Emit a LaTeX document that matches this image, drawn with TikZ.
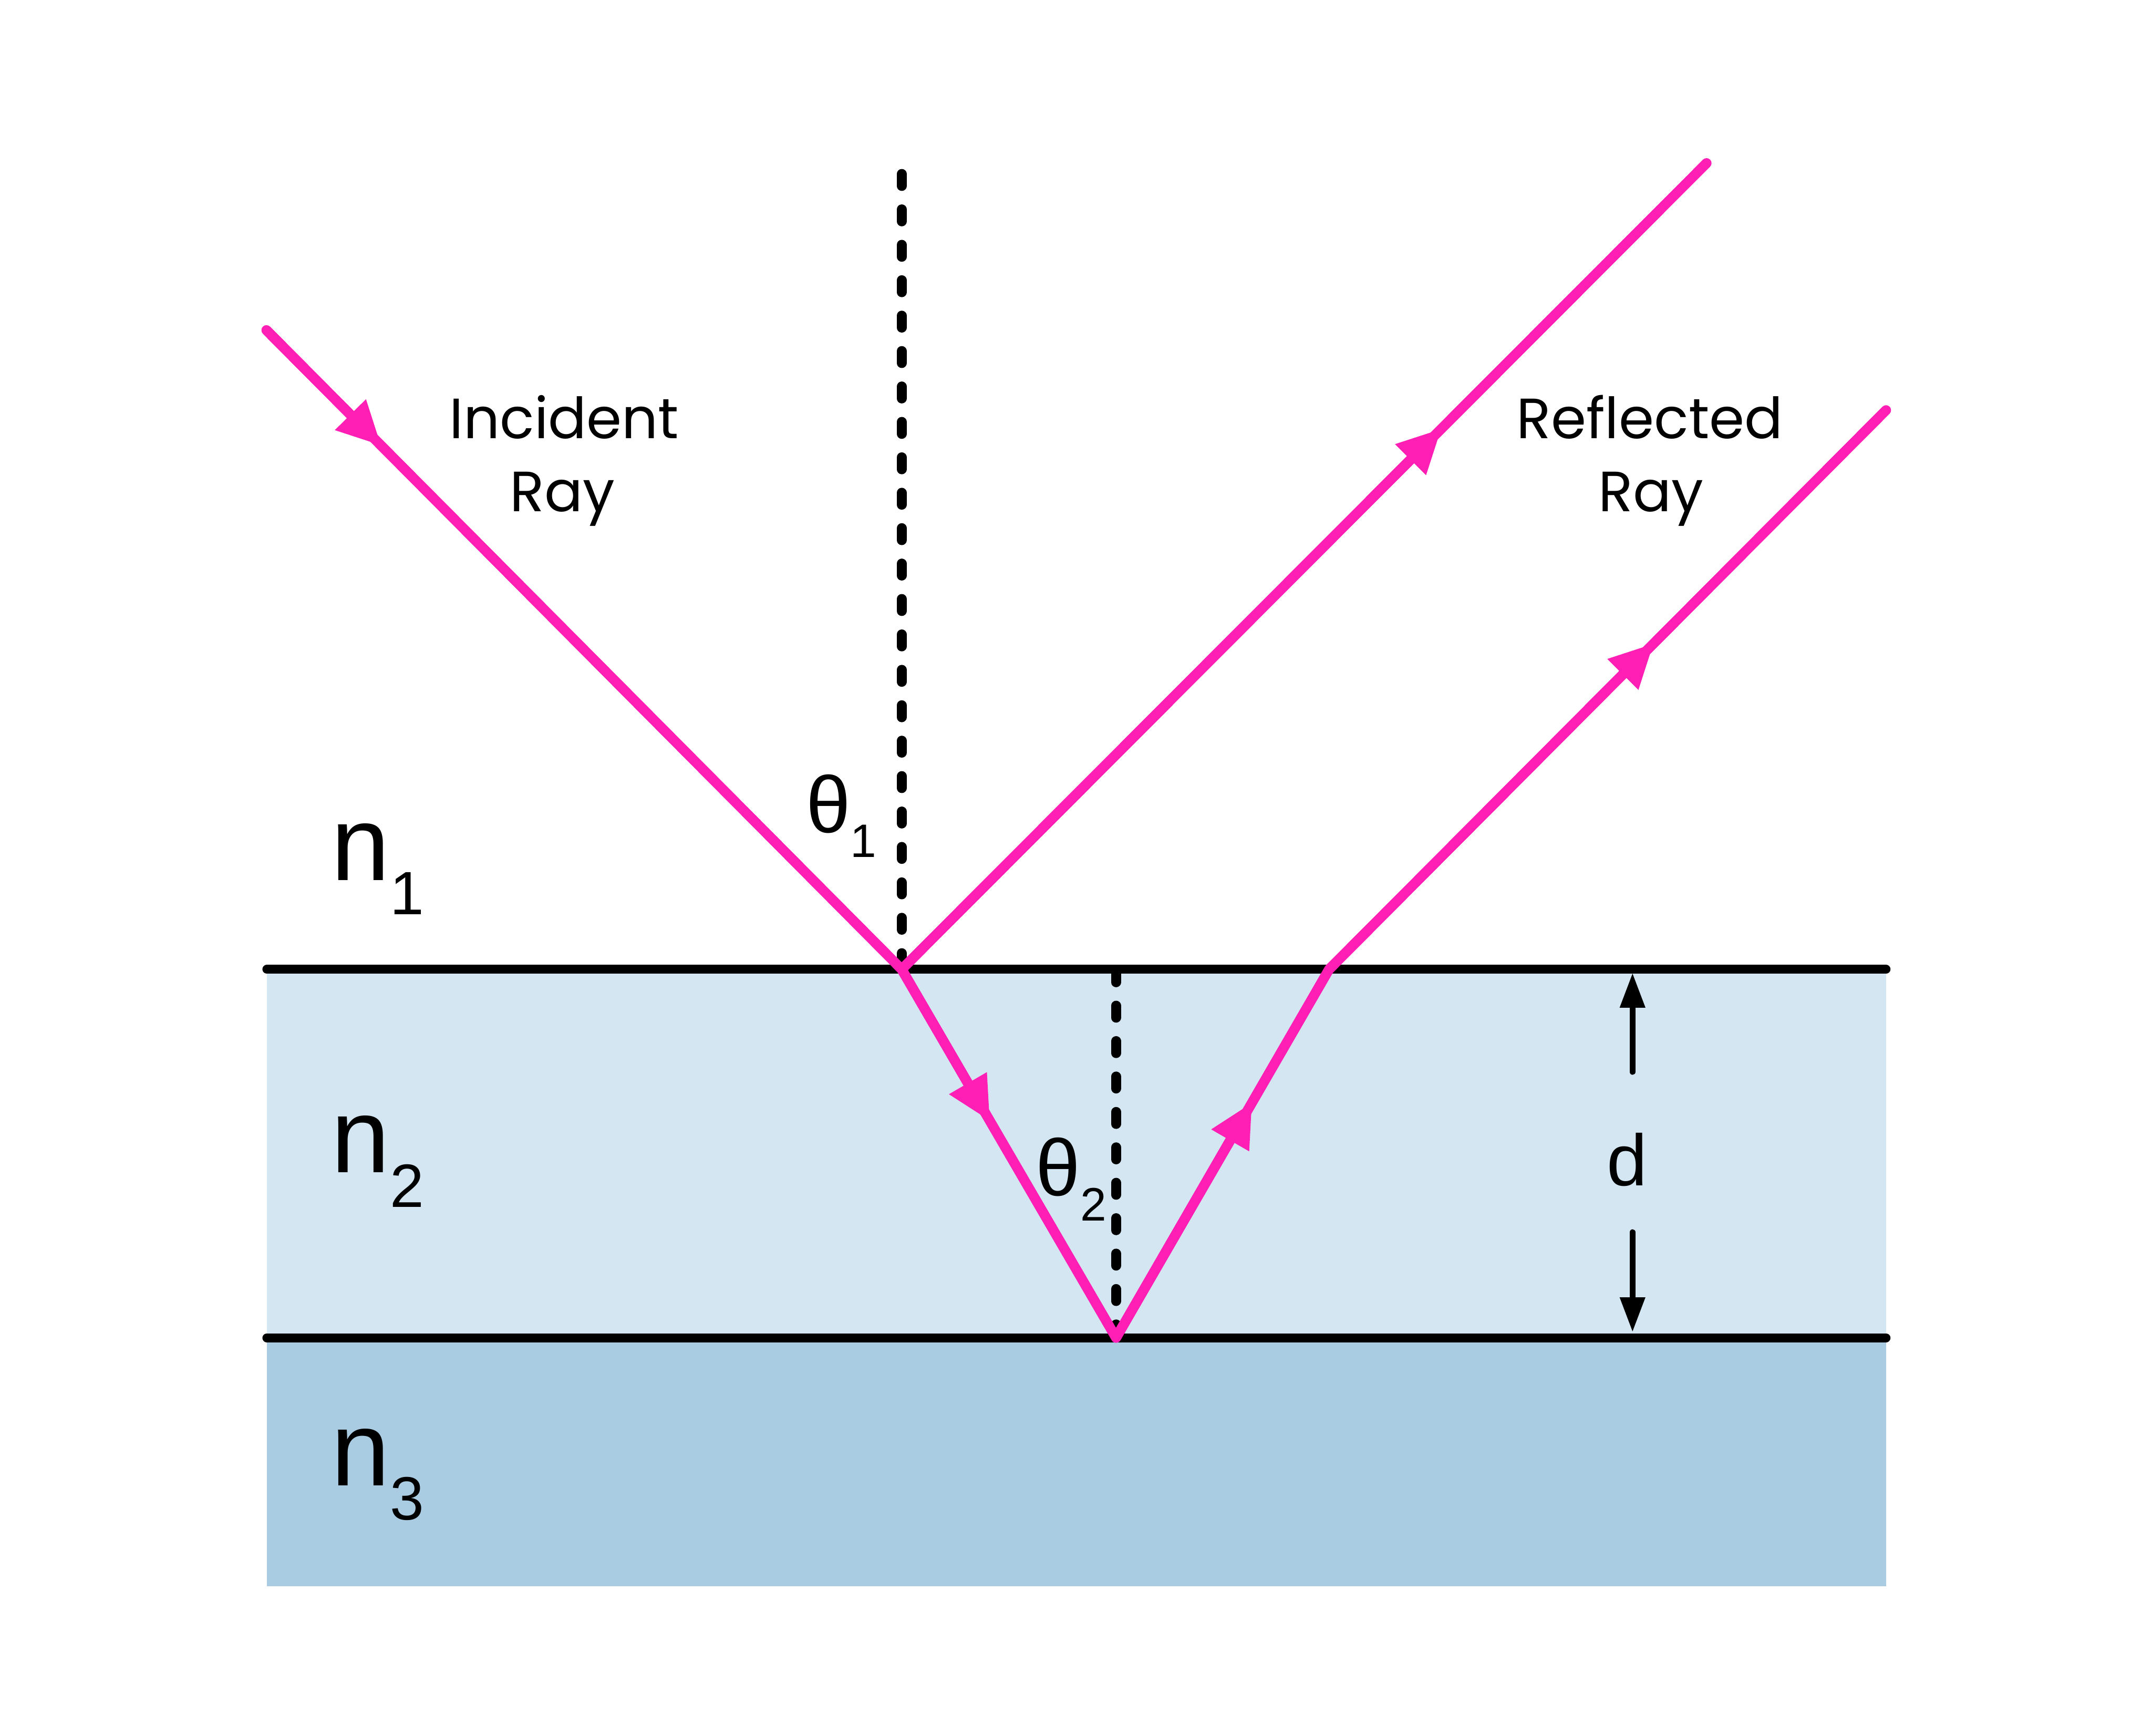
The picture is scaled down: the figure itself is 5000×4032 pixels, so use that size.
\documentclass[tikz,border=0pt]{standalone}
\usepackage{fontspec}
\setmainfont{Liberation Sans}
\newfontfamily\labelfont{Poppins}
\usetikzlibrary{arrows.meta,calc}
\definecolor{raypink}{RGB}{255,31,180}
\definecolor{layerA}{RGB}{211,230,241}
\definecolor{layerB}{RGB}{169,204,227}
\begin{document}
\begin{tikzpicture}[x=0.01cm,y=-0.01cm,
  ray/.style={draw=raypink, line width=6.6pt, line cap=round, line join=round},
  raytip/.style={draw=raypink, line width=6.6pt, -{Triangle[length=1.0cm,width=1.02cm,line width=0pt]}},
  iface/.style={draw=black, line width=5.9pt, line cap=round},
  normalline/.style={draw=black, line width=6.5pt, line cap=round, dash pattern=on 8pt off 15.4pt},
  darrow/.style={draw=black, line width=4pt, line cap=round, -{Triangle[length=0.79cm,width=0.6cm,line width=0pt]}},
  raylabel/.style={font=\labelfont\fontsize{37.5}{44}\selectfont, inner sep=0pt, anchor=base},
  medlabel/.style={font=\fontsize{69.7}{70}\selectfont, inner sep=0pt, anchor=base west},
  anglabel/.style={font=\fontsize{52.9}{53}\selectfont, inner sep=0pt, anchor=base west},
  dlabel/.style={font=\fontsize{48}{48}\selectfont, inner sep=0pt, anchor=base}]
\useasboundingbox (0,0) rectangle (5000,4032);
% layers
\fill[layerA] (620,2252) rectangle (4382,3108);
\fill[layerB] (620,3108) rectangle (4382,3685);
% coordinates
\coordinate (incStart) at (619,767);
\coordinate (P) at (2095,2252);
\coordinate (reflOneEnd) at (3965,379);
\coordinate (V) at (2593,3108);
\coordinate (Q) at (3088,2252);
\coordinate (reflTwoEnd) at (4382,953);
\coordinate (topL) at (620,2252);
\coordinate (topR) at (4382,2252);
\coordinate (botL) at (620,3108);
\coordinate (botR) at (4382,3108);
\coordinate (normOneTop) at (2095,404);
\coordinate (normOneBot) at (2095,2252);
\coordinate (normTwoTop) at (2593,2254);
\coordinate (dUpStart) at (3793,2490);
\coordinate (dUpEnd) at (3793,2262);
\coordinate (dDownStart) at (3793,2863);
\coordinate (dDownEnd) at (3793,3093);
% interfaces
\draw[iface] (topL) -- (topR);
\draw[iface] (botL) -- (botR);
% normals
\draw[normalline] (normOneTop) -- (normOneBot);
\draw[normalline] (normTwoTop) -- (V);
% rays
\draw[ray] (incStart) -- (P) -- (reflOneEnd);
\draw[ray] (P) -- (V) -- (Q) -- (reflTwoEnd);
\draw[raytip] (incStart) -- ($(incStart)!0.18!(P)$);
\draw[raytip] (P) -- ($(P)!0.67!(reflOneEnd)$);
\draw[raytip] (P) -- ($(P)!0.41!(V)$);
\draw[raytip] (V) -- ($(V)!0.637!(Q)$);
\draw[raytip] (Q) -- ($(Q)!0.582!(reflTwoEnd)$);
% thickness arrows
\draw[darrow] (dUpStart) -- (dUpEnd);
\draw[darrow] (dDownStart) -- (dDownEnd);
\node[dlabel] (dlab) at (3781,2754) {d};
% labels
\node[raylabel] (incA) at (1311,1019) {Incident};
\node[raylabel] (incB) at (1307,1188) {Ray};
\node[raylabel] (refA) at (3833,1019) {Reflected};
\node[raylabel] (refB) at (3836,1188) {Ray};
\node[medlabel] (nOne) at (769,2045) {n\raisebox{-22.8pt}{\fontsize{40.4}{41}\selectfont 1}};
\node[medlabel] (nTwo) at (769,2724) {n\raisebox{-22.8pt}{\fontsize{40.4}{41}\selectfont 2}};
\node[medlabel] (nThree) at (769,3451) {n\raisebox{-22.8pt}{\fontsize{40.4}{41}\selectfont 3}};
\node[anglabel] (thOne) at (1872,1934) {θ\raisebox{-16.5pt}{\fontsize{31}{31}\selectfont 1}};
\node[anglabel] (thTwo) at (2406,2778) {θ\raisebox{-16.5pt}{\fontsize{31}{31}\selectfont 2}};
\end{tikzpicture}
\end{document}
